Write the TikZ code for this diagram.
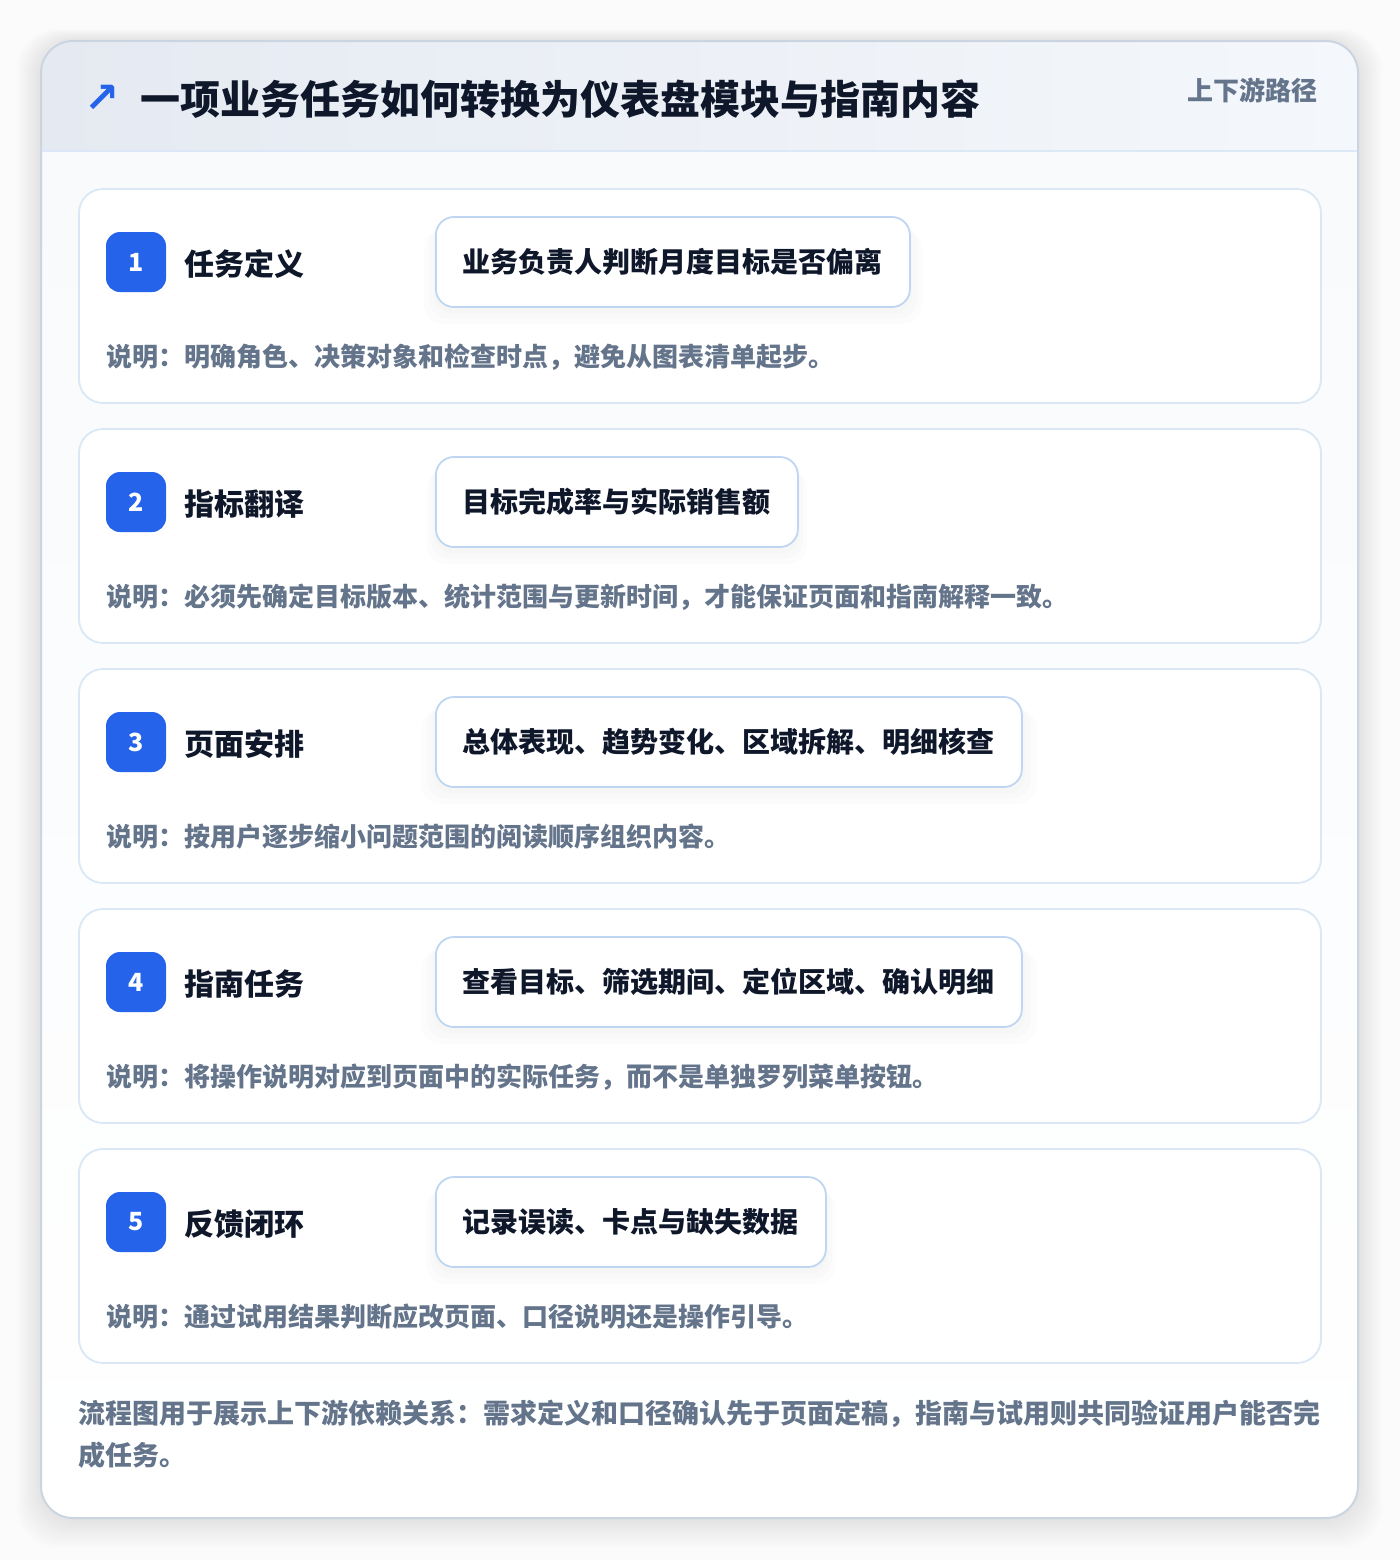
\documentclass[tikz,border=0pt]{standalone}
\usepackage{fontspec}
\setmainfont{Noto Sans CJK SC}
\newfontfamily\symfont{DejaVu Sans}
\usetikzlibrary{shadows}
\definecolor{pagebg}{HTML}{FBFBFC}
\definecolor{cardedge}{HTML}{CBD5E1}
\definecolor{headleft}{HTML}{E5EAF2}
\definecolor{headright}{HTML}{F4F7FB}
\definecolor{headline}{HTML}{DCE8F7}
\definecolor{bodytop}{HTML}{F8FAFC}
\definecolor{stepedge}{HTML}{DBE7F7}
\definecolor{taskedge}{HTML}{BFD6F2}
\definecolor{accent}{HTML}{2563EB}
\definecolor{ink}{HTML}{0F172A}
\definecolor{muted}{HTML}{64748B}

\begin{document}
\begin{tikzpicture}[x=0.5pt,y=-0.5pt,
	stepcard/.style={draw=stepedge, fill=white, line width=0.9pt, rounded corners=12pt},
	badge/.style={fill=accent, text=white, rounded corners=7pt, minimum size=30pt,
		inner sep=0pt, font=\fontsize{12.5pt}{14pt}\selectfont\bfseries},
	steptitle/.style={text=ink, inner sep=0pt, font=\fontsize{15pt}{18pt}\selectfont\bfseries},
	taskbox/.style={draw=taskedge, fill=white, line width=0.9pt, rounded corners=9pt,
		minimum height=45pt, inner xsep=13.5pt, text=ink,
		font=\fontsize{14pt}{17pt}\selectfont\bfseries,
		drop shadow={opacity=0.018, shadow xshift=0pt, shadow yshift=-3pt, shadow scale=1.01},
		drop shadow={opacity=0.018, shadow xshift=0pt, shadow yshift=-5pt, shadow scale=1.03},
		drop shadow={opacity=0.018, shadow xshift=0pt, shadow yshift=-7pt, shadow scale=1.05}},
	note/.style={text=muted, inner sep=0pt, font=\fontsize{13pt}{15pt}\selectfont\bfseries}]
	\useasboundingbox (0,0) rectangle (1400,1560);
	\fill[pagebg] (0,0) rectangle (1400,1560);
	% soft shadow of the outer card
	\foreach \k in {1,...,12}
		\fill[black, opacity=0.006, rounded corners=20pt]
			(41-2*\k,41-\k) rectangle (1358+2*\k,1518+2.5*\k);
	% outer card
	\begin{scope}
		\clip[rounded corners=16pt] (41,41) rectangle (1358,1518);
		\shade[top color=bodytop, bottom color=white] (41,151) rectangle (1358,1518);
		\shade[left color=headleft, right color=headright] (41,41) rectangle (1358,151);
	\end{scope}
	\draw[headline, line width=1pt] (41,151) -- (1358,151);
	\draw[cardedge, line width=1pt, rounded corners=16pt] (41,41) rectangle (1358,1518);
	% header
	\node[text=accent, inner sep=0pt, font=\symfont\bfseries\fontsize{21pt}{22pt}\selectfont] (arrow) at (102,99) {↗};
	\node[anchor=west, text=ink, inner sep=0pt, font=\fontsize{20pt}{24pt}\selectfont\bfseries]
		(title) at (140,99) {一项业务任务如何转换为仪表盘模块与指南内容};
	\node[anchor=east, text=muted, inner sep=0pt, font=\fontsize{13pt}{15pt}\selectfont\bfseries]
		(tag) at (1318,90) {上下游路径};
	% steps
	\foreach \i/\sname/\stask/\snote in {
		1/{任务定义}/{业务负责人判断月度目标是否偏离}/{说明：明确角色、决策对象和检查时点，避免从图表清单起步。},
		2/{指标翻译}/{目标完成率与实际销售额}/{说明：必须先确定目标版本、统计范围与更新时间，才能保证页面和指南解释一致。},
		3/{页面安排}/{总体表现、趋势变化、区域拆解、明细核查}/{说明：按用户逐步缩小问题范围的阅读顺序组织内容。},
		4/{指南任务}/{查看目标、筛选期间、定位区域、确认明细}/{说明：将操作说明对应到页面中的实际任务，而不是单独罗列菜单按钮。},
		5/{反馈闭环}/{记录误读、卡点与缺失数据}/{说明：通过试用结果判断应改页面、口径说明还是操作引导。}}
	{
		\pgfmathsetmacro{\t}{189+240*(\i-1)}
		\draw[stepcard] (79,\t) rectangle (1321,{\t+214});
		\node[badge] (num\i) at (136,{\t+73}) {\i};
		\node[steptitle, anchor=west] (name\i) at (184,{\t+75}) {\sname};
		\node[taskbox, anchor=west] (task\i) at (435,{\t+73}) {\stask};
		\node[note, anchor=west] (note\i) at (106,{\t+168}) {\snote};
	}
	% footer
	\node[anchor=north west, text=muted, inner sep=0pt, align=left,
		font=\fontsize{13.5pt}{21pt}\selectfont\bfseries] (footer) at (78,1400)
		{流程图用于展示上下游依赖关系：需求定义和口径确认先于页面定稿，指南与试用则共同验证用户能否完\\成任务。};
\end{tikzpicture}
\end{document}
